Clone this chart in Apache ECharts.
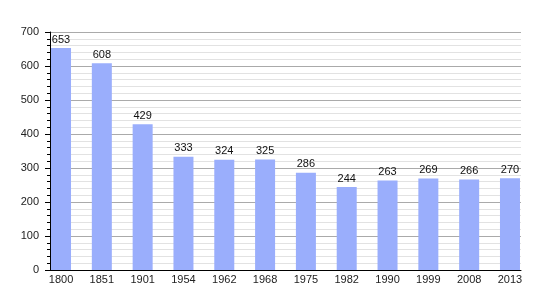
<!DOCTYPE html>
<html><head><meta charset="utf-8">
<script src="https://cdn.jsdelivr.net/npm/echarts@6/dist/echarts.min.js"></script>
<style>html,body{margin:0;padding:0;background:#fff}#c{width:550px;height:300px}</style>
</head><body><div id="c"></div>
<script>
const categories = ['1800','1851','1901','1954','1962','1968','1975','1982','1990','1999','2008','2013'];
const values = [653, 608, 429, 333, 324, 325, 286, 244, 263, 269, 266, 270];
const yTicks = [0, 100, 200, 300, 400, 500, 600, 700];

const idx = categories.map((c, i) => i);
const chart = echarts.init(document.getElementById('c'), null, {renderer: 'canvas'});
chart.setOption({
  animation: false,
  grid: {left: 50, right: 29, top: 32, bottom: 30, containLabel: false},
  xAxis: {
    type: 'value', min: -0.27, max: 11.27,
    splitLine: {show: false},
    axisLine: {show: true, onZero: false, lineStyle: {color: '#000', width: 1}},
    axisTick: {show: false},
    axisLabel: {customValues: idx, formatter: v => categories[Math.round(v)], color: '#222', fontSize: 11, fontFamily: 'Liberation Sans, Arial, sans-serif', margin: 4}
  },
  yAxis: {
    type: 'value', min: 0, max: 700, interval: 100,
    axisLine: {show: true, onZero: false, lineStyle: {color: '#000', width: 1}},
    axisTick: {show: true, length: 5, lineStyle: {color: '#000'}},
    minorTick: {show: true, splitNumber: 5, length: 3, lineStyle: {color: '#000'}},
    splitLine: {show: true, lineStyle: {color: '#aaa', width: 1}},
    minorSplitLine: {show: true, lineStyle: {color: '#e2e2e2', width: 1}},
    axisLabel: {customValues: yTicks, color: '#222', fontSize: 11, fontFamily: 'Liberation Sans, Arial, sans-serif', margin: 11}
  },
  series: [{
    type: 'bar',
    barWidth: 20,
    data: values.map((v, i) => [i, v]),
    itemStyle: {color: '#9aaefc'},
    label: {show: true, position: 'top', distance: 3, color: '#111', fontSize: 11, fontFamily: 'Liberation Sans, Arial, sans-serif'}
  }]
});
</script></body></html>
